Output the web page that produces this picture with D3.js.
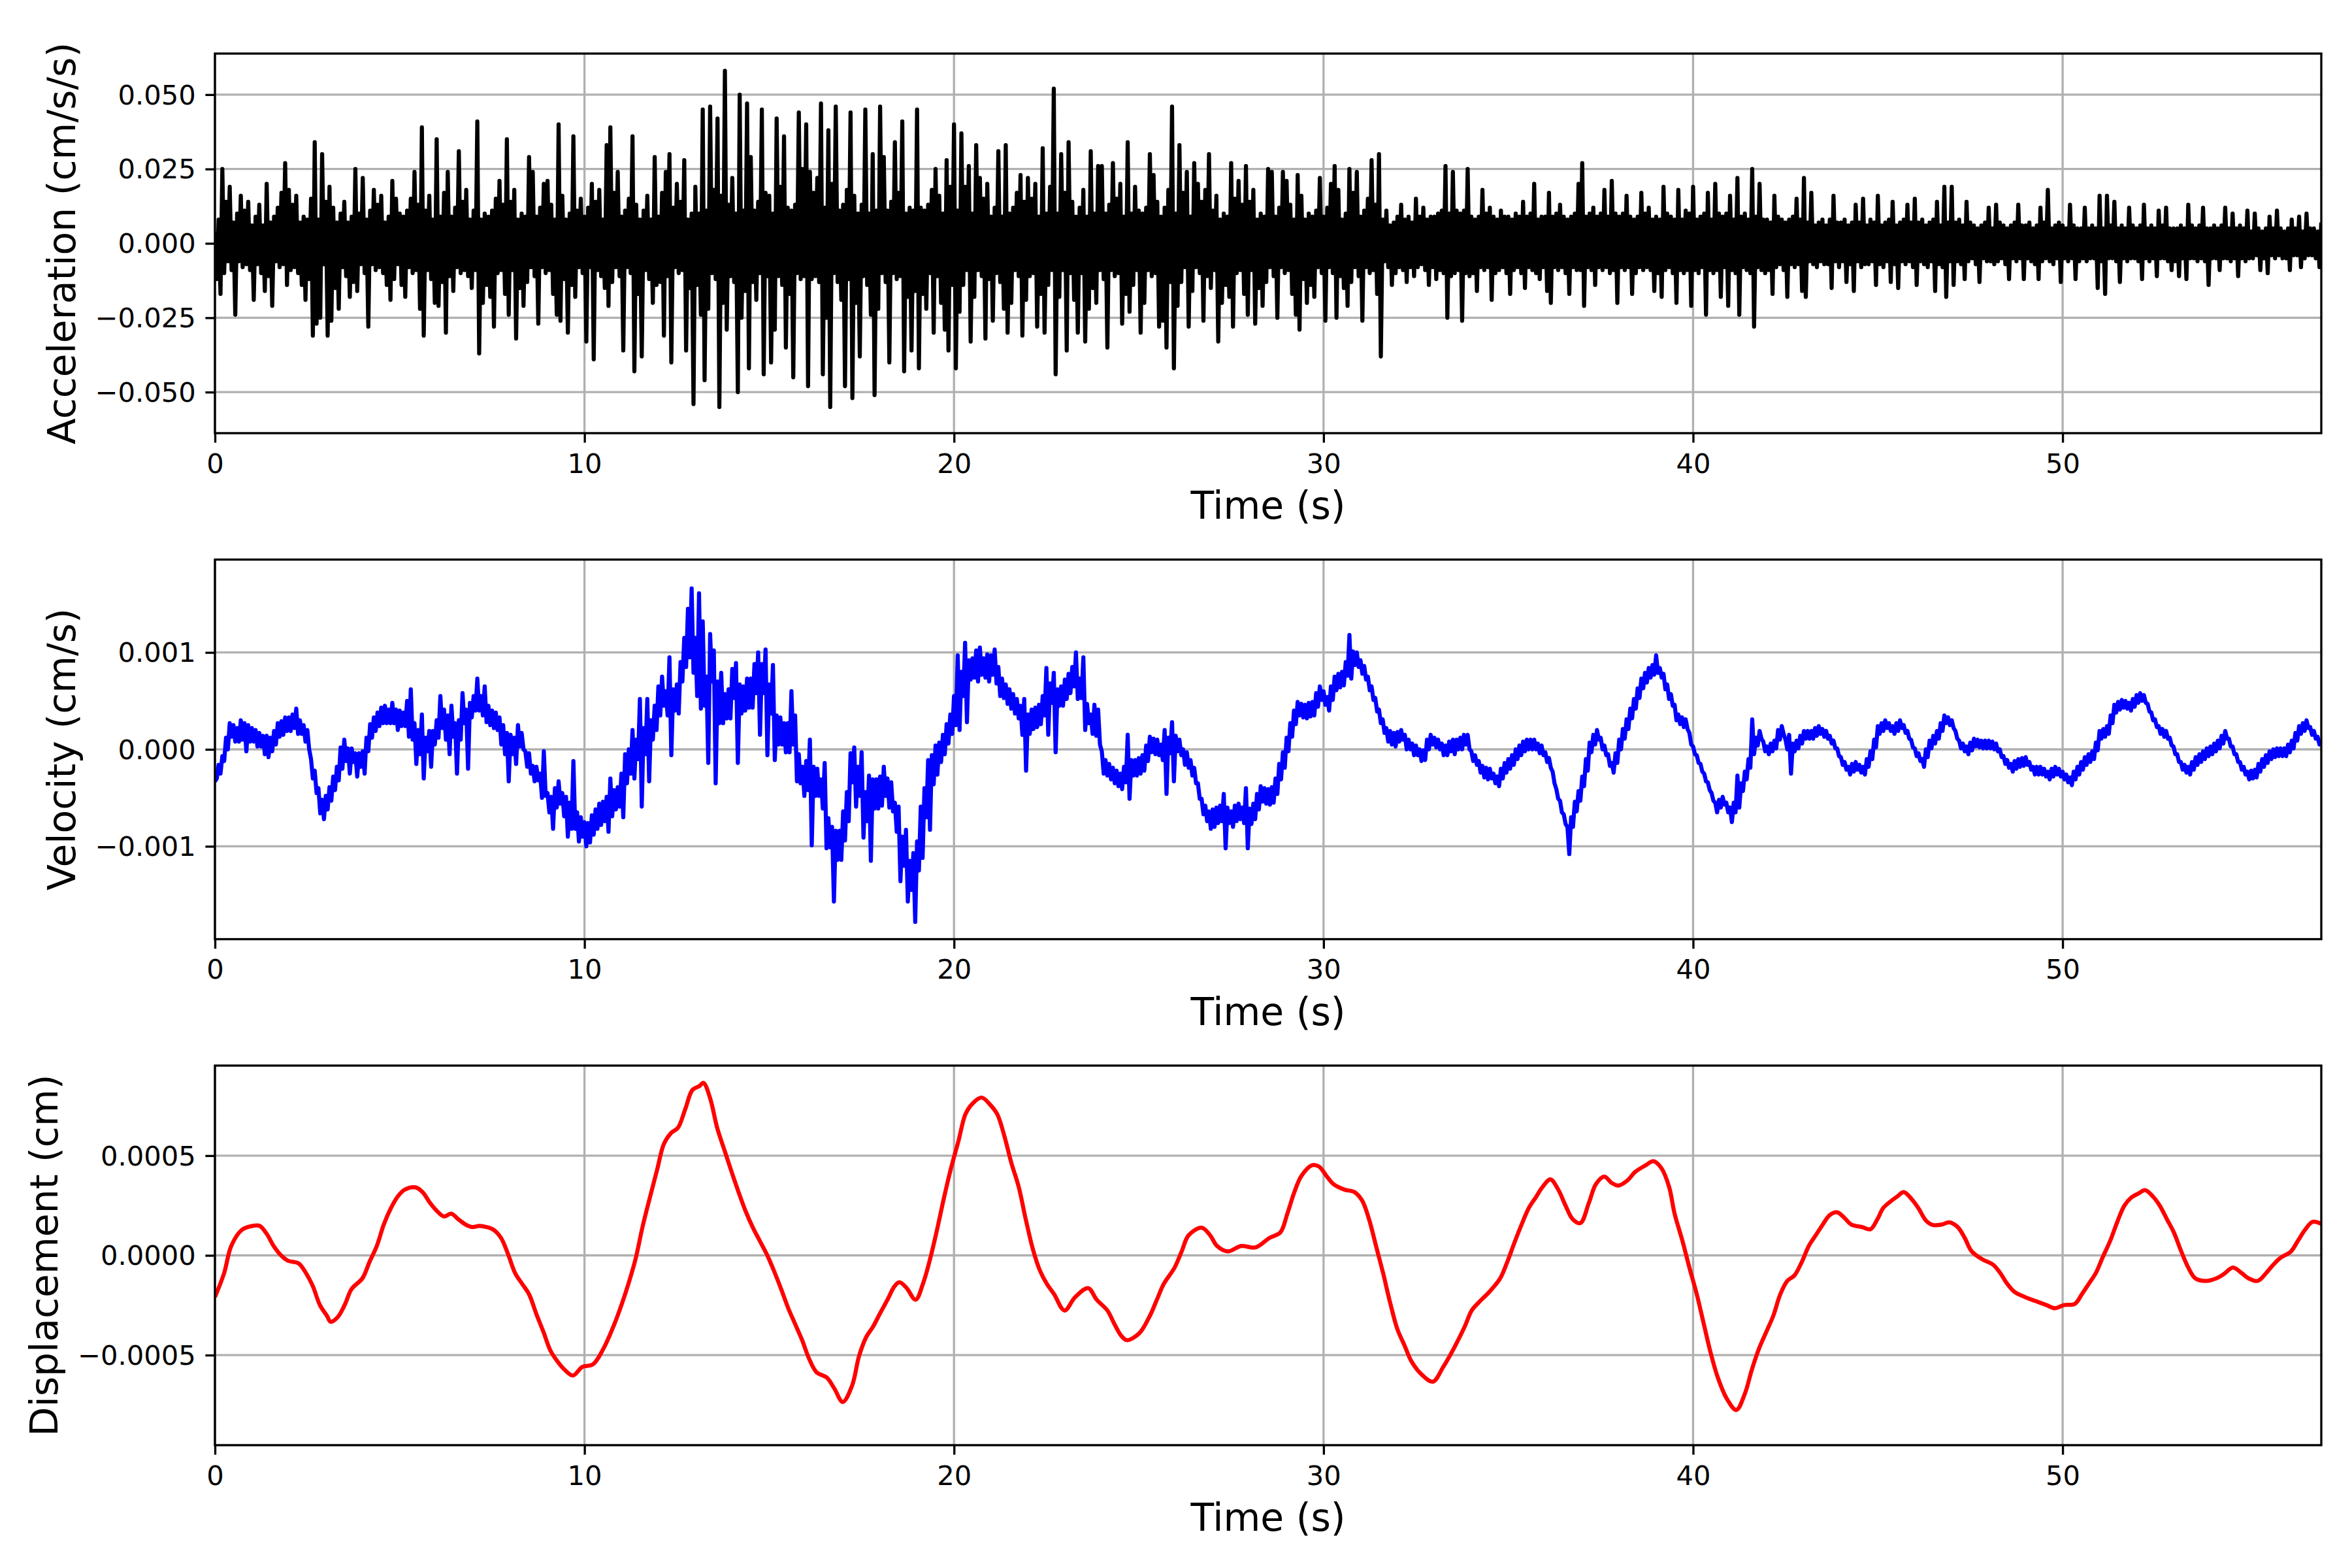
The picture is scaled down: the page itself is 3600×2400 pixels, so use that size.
<!DOCTYPE html>
<html>
<head>
<meta charset="utf-8">
<script src="https://cdn.jsdelivr.net/npm/d3@7"></script>
<style>
body { margin: 0; background: #fff; }
</style>
</head>
<body>
<div id="chart"></div>
<script>
// sampling step of the acceleration and velocity records (s)
const dt = 0.05;

// acceleration (cm/s/s), one value every dt (one row = 1 s)
const acceleration = [
0.004,-0.012,0.008,-0.017,0.025,-0.010,0.014,-0.006,0.019,-0.009,0.007,-0.024,0.010,-0.006,0.016,-0.008,0.011,-0.007,0.014,-0.009,
0.006,-0.019,0.009,-0.007,0.013,-0.010,0.006,-0.016,0.020,-0.011,0.007,-0.021,0.009,-0.006,0.012,-0.008,0.017,-0.007,0.027,-0.014,
0.018,-0.009,0.013,-0.008,0.016,-0.010,0.007,-0.014,0.009,-0.019,0.008,-0.012,0.015,-0.031,0.034,-0.027,0.008,-0.025,0.030,-0.007,
0.014,-0.031,0.019,-0.026,0.012,-0.015,0.007,-0.022,0.010,-0.008,0.014,-0.011,0.007,-0.018,0.009,-0.013,0.025,-0.016,0.010,-0.007,
0.022,-0.010,0.008,-0.028,0.011,-0.007,0.018,-0.009,0.013,-0.008,0.016,-0.010,0.007,-0.014,0.009,-0.019,0.021,-0.012,0.015,-0.007,
0.010,-0.014,0.009,-0.018,0.011,-0.008,0.015,-0.010,0.024,-0.009,0.013,-0.022,0.039,-0.031,0.011,-0.009,0.016,-0.012,0.008,-0.020,
0.035,-0.021,0.009,-0.013,0.017,-0.030,0.024,-0.011,0.009,-0.016,0.012,-0.008,0.031,-0.010,0.014,-0.009,0.018,-0.011,0.008,-0.015,
0.011,-0.009,0.041,-0.037,0.008,-0.020,0.010,-0.014,0.009,-0.018,0.011,-0.028,0.015,-0.010,0.021,-0.009,0.013,-0.017,0.035,-0.024,
0.014,-0.009,0.018,-0.032,0.008,-0.015,0.010,-0.021,0.009,-0.013,0.029,-0.008,0.024,-0.011,0.009,-0.027,0.012,-0.008,0.020,-0.010,
0.021,-0.009,0.013,-0.017,0.008,-0.024,0.040,-0.026,0.016,-0.012,0.008,-0.030,0.010,-0.014,0.036,-0.018,0.011,-0.008,0.015,-0.010,
0.009,-0.033,0.012,-0.008,0.020,-0.039,0.014,-0.009,0.018,-0.011,0.008,-0.015,0.033,-0.021,0.039,-0.013,0.017,-0.008,0.024,-0.011,
0.009,-0.036,0.011,-0.008,0.015,-0.010,0.036,-0.043,0.013,-0.017,0.008,-0.038,0.011,-0.009,0.016,-0.012,0.008,-0.020,0.029,-0.014,
0.009,-0.013,0.017,-0.031,0.024,-0.011,0.030,-0.040,0.012,-0.008,0.020,-0.010,0.014,-0.009,0.028,-0.036,0.008,-0.015,0.010,-0.054,
0.019,-0.014,0.010,-0.024,0.045,-0.046,0.011,-0.022,0.046,-0.010,0.018,-0.012,0.042,-0.055,0.016,-0.020,0.058,-0.029,0.013,-0.011,
0.022,-0.013,0.010,-0.050,0.050,-0.025,0.011,-0.016,0.047,-0.042,0.029,-0.013,0.011,-0.019,0.014,-0.010,0.045,-0.044,0.017,-0.011,
0.016,-0.040,0.010,-0.029,0.042,-0.011,0.019,-0.014,0.036,-0.035,0.012,-0.017,0.011,-0.045,0.013,-0.010,0.044,-0.012,0.025,-0.011,
0.040,-0.048,0.024,-0.012,0.017,-0.011,0.022,-0.013,0.047,-0.044,0.012,-0.025,0.038,-0.055,0.020,-0.010,0.046,-0.013,0.011,-0.019,
0.013,-0.048,0.018,-0.012,0.044,-0.052,0.016,-0.020,0.010,-0.038,0.013,-0.011,0.045,-0.014,0.010,-0.024,0.030,-0.051,0.011,-0.022,
0.046,-0.010,0.029,-0.013,0.011,-0.040,0.014,-0.010,0.034,-0.012,0.017,-0.011,0.041,-0.043,0.010,-0.018,0.012,-0.036,0.011,-0.016,
0.045,-0.042,0.012,-0.017,0.011,-0.022,0.013,-0.010,0.018,-0.030,0.025,-0.011,0.016,-0.020,0.010,-0.029,0.028,-0.036,0.019,-0.014,
0.040,-0.042,0.011,-0.023,0.037,-0.014,0.019,-0.009,0.026,-0.033,0.010,-0.018,0.033,-0.009,0.022,-0.011,0.015,-0.032,0.020,-0.012,
0.009,-0.026,0.012,-0.010,0.031,-0.013,0.009,-0.022,0.033,-0.030,0.010,-0.020,0.012,-0.009,0.017,-0.011,0.023,-0.031,0.014,-0.019,
0.022,-0.011,0.015,-0.010,0.020,-0.028,0.009,-0.017,0.032,-0.030,0.010,-0.014,0.019,-0.009,0.052,-0.044,0.010,-0.018,0.030,-0.009,
0.017,-0.036,0.034,-0.010,0.014,-0.019,0.009,-0.030,0.012,-0.010,0.018,-0.033,0.009,-0.022,0.031,-0.015,0.010,-0.020,0.026,-0.009,
0.026,-0.012,0.010,-0.035,0.013,-0.009,0.027,-0.011,0.015,-0.010,0.020,-0.027,0.009,-0.017,0.034,-0.023,0.010,-0.014,0.019,-0.009,
0.011,-0.030,0.010,-0.020,0.012,-0.009,0.030,-0.011,0.023,-0.010,0.014,-0.028,0.009,-0.026,0.012,-0.035,0.018,-0.013,0.046,-0.042,
0.010,-0.021,0.033,-0.013,0.017,-0.008,0.024,-0.028,0.009,-0.016,0.027,-0.008,0.020,-0.010,0.014,-0.026,0.018,-0.011,0.030,-0.015,
0.011,-0.009,0.016,-0.033,0.008,-0.020,0.010,-0.014,0.009,-0.018,0.027,-0.028,0.015,-0.010,0.021,-0.009,0.013,-0.017,0.026,-0.024,
0.014,-0.009,0.018,-0.027,0.008,-0.015,0.010,-0.021,0.009,-0.013,0.025,-0.008,0.024,-0.011,0.009,-0.025,0.012,-0.008,0.024,-0.010,
0.021,-0.009,0.013,-0.017,0.008,-0.024,0.023,-0.029,0.016,-0.012,0.008,-0.020,0.010,-0.014,0.009,-0.018,0.011,-0.008,0.022,-0.010,
0.009,-0.026,0.012,-0.008,0.020,-0.010,0.026,-0.025,0.018,-0.011,0.008,-0.015,0.010,-0.021,0.025,-0.013,0.017,-0.008,0.024,-0.011,
0.009,-0.026,0.011,-0.008,0.015,-0.010,0.028,-0.009,0.013,-0.017,0.030,-0.038,0.008,-0.006,0.011,-0.008,0.006,-0.014,0.007,-0.010,
0.009,-0.008,0.013,-0.009,0.008,-0.013,0.009,-0.008,0.007,-0.011,0.015,-0.008,0.009,-0.007,0.012,-0.009,0.008,-0.014,0.009,-0.008,
0.009,-0.012,0.010,-0.009,0.011,-0.010,0.026,-0.025,0.010,-0.011,0.024,-0.010,0.011,-0.009,0.010,-0.026,0.011,-0.010,0.025,-0.011,
0.009,-0.010,0.008,-0.016,0.009,-0.008,0.018,-0.009,0.010,-0.008,0.012,-0.019,0.009,-0.010,0.008,-0.009,0.011,-0.008,0.009,-0.010,
0.009,-0.017,0.008,-0.009,0.010,-0.008,0.009,-0.010,0.014,-0.015,0.009,-0.008,0.010,-0.009,0.020,-0.010,0.008,-0.012,0.009,-0.008,
0.009,-0.016,0.017,-0.020,0.009,-0.008,0.010,-0.009,0.013,-0.008,0.009,-0.010,0.008,-0.017,0.009,-0.008,0.010,-0.009,0.020,-0.009,
0.027,-0.021,0.009,-0.008,0.010,-0.009,0.012,-0.014,0.009,-0.008,0.010,-0.009,0.018,-0.008,0.009,-0.010,0.021,-0.009,0.010,-0.020,
0.009,-0.008,0.010,-0.009,0.016,-0.008,0.009,-0.017,0.008,-0.010,0.009,-0.008,0.017,-0.009,0.010,-0.008,0.012,-0.009,0.008,-0.016,
0.009,-0.010,0.008,-0.018,0.019,-0.009,0.010,-0.008,0.009,-0.010,0.008,-0.020,0.018,-0.009,0.008,-0.010,0.011,-0.009,0.010,-0.021,
0.019,-0.009,0.008,-0.010,0.009,-0.008,0.010,-0.024,0.017,-0.009,0.008,-0.010,0.020,-0.009,0.010,-0.018,0.009,-0.008,0.010,-0.021,
0.016,-0.009,0.008,-0.010,0.022,-0.024,0.009,-0.008,0.010,-0.009,0.008,-0.010,0.025,-0.028,0.009,-0.008,0.020,-0.009,0.008,-0.010,
0.008,-0.009,0.007,-0.017,0.016,-0.008,0.009,-0.007,0.008,-0.009,0.007,-0.018,0.008,-0.007,0.009,-0.008,0.015,-0.007,0.008,-0.016,
0.022,-0.018,0.007,-0.006,0.017,-0.007,0.006,-0.008,0.007,-0.006,0.008,-0.007,0.006,-0.007,0.008,-0.015,0.016,-0.006,0.007,-0.008,
0.007,-0.006,0.008,-0.013,0.006,-0.007,0.007,-0.016,0.013,-0.006,0.007,-0.008,0.015,-0.007,0.006,-0.007,0.008,-0.006,0.007,-0.014,
0.016,-0.007,0.006,-0.008,0.007,-0.006,0.008,-0.013,0.014,-0.007,0.006,-0.015,0.007,-0.006,0.008,-0.007,0.013,-0.006,0.007,-0.008,
0.015,-0.014,0.007,-0.006,0.008,-0.007,0.006,-0.008,0.007,-0.006,0.008,-0.016,0.014,-0.007,0.006,-0.008,0.019,-0.018,0.007,-0.006,
0.019,-0.014,0.007,-0.006,0.008,-0.007,0.006,-0.012,0.014,-0.006,0.007,-0.005,0.006,-0.007,0.005,-0.013,0.006,-0.005,0.007,-0.006,
0.012,-0.006,0.005,-0.007,0.013,-0.006,0.007,-0.005,0.006,-0.007,0.005,-0.012,0.006,-0.005,0.007,-0.006,0.013,-0.005,0.006,-0.012,
0.006,-0.005,0.007,-0.006,0.005,-0.007,0.006,-0.012,0.012,-0.006,0.007,-0.005,0.018,-0.006,0.005,-0.007,0.006,-0.005,0.007,-0.013,
0.006,-0.005,0.005,-0.006,0.013,-0.005,0.006,-0.012,0.005,-0.006,0.005,-0.005,0.012,-0.006,0.005,-0.005,0.006,-0.005,0.005,-0.015,
0.016,-0.006,0.005,-0.017,0.016,-0.005,0.006,-0.005,0.014,-0.006,0.005,-0.013,0.006,-0.005,0.005,-0.006,0.012,-0.005,0.006,-0.005,
0.005,-0.006,0.006,-0.012,0.013,-0.005,0.005,-0.006,0.006,-0.005,0.005,-0.011,0.011,-0.005,0.006,-0.005,0.012,-0.006,0.005,-0.009,
0.005,-0.006,0.005,-0.011,0.006,-0.005,0.005,-0.012,0.013,-0.005,0.006,-0.005,0.005,-0.006,0.006,-0.005,0.012,-0.006,0.005,-0.014,
0.005,-0.005,0.006,-0.005,0.005,-0.009,0.006,-0.005,0.012,-0.005,0.005,-0.006,0.010,-0.005,0.005,-0.011,0.006,-0.005,0.005,-0.006,
0.011,-0.005,0.004,-0.005,0.010,-0.004,0.005,-0.009,0.004,-0.005,0.005,-0.010,0.009,-0.004,0.005,-0.005,0.011,-0.004,0.005,-0.005,
0.004,-0.005,0.005,-0.009,0.008,-0.004,0.005,-0.004,0.009,-0.008,0.004,-0.005,0.010,-0.004,0.005,-0.004,0.005,-0.005,0.004,-0.008,
0.007];

// velocity (cm/s), one value every dt (one row = 1 s)
const velocity = [
-0.33e-3,-0.30e-3,-0.16e-3,-0.25e-3,-0.07e-3,-0.12e-3,0.12e-3,0.00e-3,0.27e-3,0.13e-3,0.25e-3,0.08e-3,0.22e-3,0.08e-3,0.30e-3,0.10e-3,0.27e-3,-0.02e-3,0.25e-3,0.08e-3,
0.22e-3,0.08e-3,0.20e-3,0.03e-3,0.17e-3,0.03e-3,0.14e-3,-0.05e-3,0.14e-3,-0.08e-3,0.12e-3,-0.02e-3,0.19e-3,0.05e-3,0.27e-3,0.13e-3,0.29e-3,0.15e-3,0.33e-3,0.19e-3,
0.33e-3,0.19e-3,0.36e-3,0.22e-3,0.42e-3,0.16e-3,0.30e-3,0.16e-3,0.25e-3,0.08e-3,0.20e-3,0.00e-3,-0.10e-3,-0.30e-3,-0.22e-3,-0.45e-3,-0.40e-3,-0.66e-3,-0.52e-3,-0.72e-3,
-0.48e-3,-0.62e-3,-0.39e-3,-0.53e-3,-0.28e-3,-0.42e-3,-0.18e-3,-0.32e-3,0.02e-3,-0.20e-3,0.10e-3,-0.12e-3,0.01e-3,-0.25e-3,0.01e-3,-0.13e-3,-0.04e-3,-0.28e-3,-0.04e-3,-0.18e-3,
-0.02e-3,-0.25e-3,0.12e-3,-0.02e-3,0.26e-3,0.12e-3,0.33e-3,0.19e-3,0.38e-3,0.24e-3,0.43e-3,0.27e-3,0.45e-3,0.27e-3,0.41e-3,0.27e-3,0.48e-3,0.27e-3,0.41e-3,0.20e-3,
0.40e-3,0.24e-3,0.38e-3,0.24e-3,0.50e-3,0.13e-3,0.62e-3,0.10e-3,0.27e-3,-0.15e-3,0.20e-3,-0.05e-3,0.36e-3,-0.30e-3,0.12e-3,-0.02e-3,0.19e-3,-0.18e-3,0.19e-3,0.05e-3,
0.30e-3,0.12e-3,0.55e-3,0.22e-3,0.41e-3,0.10e-3,0.35e-3,-0.05e-3,0.45e-3,0.13e-3,0.27e-3,-0.25e-3,0.30e-3,0.10e-3,0.58e-3,0.27e-3,0.41e-3,-0.20e-3,0.48e-3,0.33e-3,
0.55e-3,0.40e-3,0.73e-3,0.40e-3,0.55e-3,0.35e-3,0.65e-3,0.28e-3,0.45e-3,0.25e-3,0.40e-3,0.22e-3,0.38e-3,0.20e-3,0.33e-3,0.05e-3,0.25e-3,-0.05e-3,0.17e-3,-0.33e-3,
0.15e-3,-0.05e-3,0.12e-3,-0.15e-3,0.25e-3,0.03e-3,0.17e-3,0.00e-3,-0.02e-3,-0.18e-3,-0.04e-3,-0.25e-3,-0.17e-3,-0.33e-3,-0.18e-3,-0.32e-3,-0.25e-3,-0.50e-3,-0.02e-3,-0.48e-3,
-0.45e-3,-0.65e-3,-0.49e-3,-0.82e-3,-0.40e-3,-0.60e-3,-0.33e-3,-0.56e-3,-0.45e-3,-0.69e-3,-0.49e-3,-0.90e-3,-0.55e-3,-0.82e-3,-0.12e-3,-0.82e-3,-0.65e-3,-0.95e-3,-0.70e-3,-0.90e-3,
-0.75e-3,-1.00e-3,-0.76e-3,-0.96e-3,-0.68e-3,-0.88e-3,-0.62e-3,-0.82e-3,-0.56e-3,-0.78e-3,-0.54e-3,-0.74e-3,-0.49e-3,-0.85e-3,-0.30e-3,-0.69e-3,-0.42e-3,-0.62e-3,-0.39e-3,-0.59e-3,
-0.25e-3,-0.70e-3,-0.05e-3,-0.35e-3,0.00e-3,-0.25e-3,0.20e-3,-0.30e-3,0.10e-3,-0.10e-3,0.52e-3,-0.59e-3,0.22e-3,-0.05e-3,0.52e-3,-0.33e-3,0.30e-3,0.10e-3,0.45e-3,0.20e-3,
0.65e-3,0.35e-3,0.75e-3,0.45e-3,0.60e-3,0.35e-3,0.95e-3,-0.06e-3,0.62e-3,0.40e-3,0.67e-3,0.37e-3,0.90e-3,0.70e-3,1.15e-3,0.85e-3,1.45e-3,0.95e-3,1.66e-3,0.79e-3,
1.15e-3,0.55e-3,1.61e-3,0.42e-3,1.32e-3,0.45e-3,0.75e-3,-0.14e-3,1.19e-3,0.70e-3,1.02e-3,-0.35e-3,0.70e-3,0.27e-3,0.79e-3,0.27e-3,0.57e-3,0.32e-3,0.62e-3,0.32e-3,
0.83e-3,0.53e-3,0.89e-3,-0.14e-3,0.67e-3,0.37e-3,0.65e-3,0.40e-3,0.73e-3,0.43e-3,0.73e-3,0.43e-3,0.88e-3,0.58e-3,1.00e-3,0.15e-3,0.88e-3,0.58e-3,1.03e-3,-0.06e-3,
0.67e-3,0.37e-3,0.87e-3,-0.11e-3,0.35e-3,0.05e-3,0.33e-3,0.05e-3,0.27e-3,-0.03e-3,0.27e-3,-0.03e-3,0.60e-3,0.05e-3,0.35e-3,-0.33e-3,-0.05e-3,-0.35e-3,-0.18e-3,-0.48e-3,
-0.12e-3,-0.42e-3,0.10e-3,-0.99e-3,-0.18e-3,-0.48e-3,-0.20e-3,-0.48e-3,-0.31e-3,-0.61e-3,-0.14e-3,-1.02e-3,-0.71e-3,-1.01e-3,-0.80e-3,-1.57e-3,-0.84e-3,-1.14e-3,-0.84e-3,-1.14e-3,
-0.64e-3,-0.94e-3,-0.44e-3,-0.74e-3,-0.04e-3,-0.34e-3,0.02e-3,-0.59e-3,-0.18e-3,-0.48e-3,-0.03e-3,-0.91e-3,-0.44e-3,-0.74e-3,-0.27e-3,-1.15e-3,-0.31e-3,-0.61e-3,-0.31e-3,-0.61e-3,
-0.28e-3,-0.58e-3,-0.18e-3,-0.48e-3,-0.30e-3,-0.60e-3,-0.34e-3,-0.64e-3,-0.55e-3,-0.85e-3,-0.59e-3,-1.36e-3,-0.90e-3,-1.20e-3,-0.83e-3,-1.57e-3,-1.15e-3,-1.45e-3,-1.07e-3,-1.78e-3,
-0.95e-3,-1.25e-3,-0.59e-3,-1.12e-3,-0.40e-3,-0.70e-3,-0.11e-3,-0.83e-3,-0.06e-3,-0.36e-3,0.04e-3,-0.26e-3,0.07e-3,-0.13e-3,0.15e-3,-0.05e-3,0.26e-3,0.06e-3,0.36e-3,0.16e-3,
0.55e-3,0.25e-3,0.97e-3,0.20e-3,0.80e-3,0.55e-3,1.10e-3,0.28e-3,0.92e-3,0.72e-3,0.94e-3,0.74e-3,1.02e-3,0.70e-3,1.05e-3,0.77e-3,0.94e-3,0.74e-3,0.98e-3,0.70e-3,
0.97e-3,0.77e-3,1.03e-3,0.68e-3,0.85e-3,0.55e-3,0.73e-3,0.53e-3,0.67e-3,0.47e-3,0.62e-3,0.42e-3,0.57e-3,0.37e-3,0.52e-3,0.32e-3,0.45e-3,0.15e-3,0.52e-3,-0.22e-3,
0.36e-3,0.16e-3,0.41e-3,0.21e-3,0.43e-3,0.23e-3,0.46e-3,0.26e-3,0.55e-3,0.35e-3,0.84e-3,0.15e-3,0.68e-3,0.48e-3,0.79e-3,-0.03e-3,0.62e-3,0.45e-3,0.65e-3,0.45e-3,
0.72e-3,0.52e-3,0.78e-3,0.58e-3,0.85e-3,0.65e-3,1.00e-3,0.52e-3,0.73e-3,0.53e-3,0.95e-3,0.20e-3,0.47e-3,0.27e-3,0.36e-3,0.16e-3,0.46e-3,0.14e-3,0.41e-3,0.05e-3,
-0.02e-3,-0.25e-3,-0.11e-3,-0.27e-3,-0.15e-3,-0.31e-3,-0.19e-3,-0.35e-3,-0.22e-3,-0.38e-3,-0.25e-3,-0.41e-3,-0.18e-3,-0.34e-3,0.15e-3,-0.51e-3,-0.11e-3,-0.27e-3,-0.11e-3,-0.27e-3,
-0.09e-3,-0.25e-3,-0.06e-3,-0.22e-3,0.04e-3,-0.12e-3,0.13e-3,-0.03e-3,0.11e-3,-0.05e-3,0.10e-3,-0.06e-3,0.05e-3,-0.11e-3,0.20e-3,-0.46e-3,0.12e-3,-0.04e-3,0.28e-3,-0.33e-3,
0.14e-3,-0.02e-3,0.10e-3,-0.06e-3,0.00e-3,-0.16e-3,-0.03e-3,-0.19e-3,-0.11e-3,-0.27e-3,-0.19e-3,-0.35e-3,-0.35e-3,-0.51e-3,-0.51e-3,-0.67e-3,-0.58e-3,-0.74e-3,-0.64e-3,-0.82e-3,
-0.62e-3,-0.80e-3,-0.60e-3,-0.76e-3,-0.58e-3,-0.74e-3,-0.46e-3,-1.02e-3,-0.60e-3,-0.76e-3,-0.64e-3,-0.80e-3,-0.58e-3,-0.74e-3,-0.56e-3,-0.72e-3,-0.60e-3,-0.76e-3,-0.40e-3,-1.02e-3,
-0.61e-3,-0.77e-3,-0.56e-3,-0.72e-3,-0.46e-3,-0.62e-3,-0.38e-3,-0.54e-3,-0.40e-3,-0.56e-3,-0.41e-3,-0.57e-3,-0.39e-3,-0.55e-3,-0.30e-3,-0.46e-3,-0.15e-3,-0.31e-3,-0.03e-3,-0.19e-3,
0.12e-3,-0.02e-3,0.27e-3,0.13e-3,0.40e-3,0.26e-3,0.49e-3,0.35e-3,0.47e-3,0.33e-3,0.46e-3,0.32e-3,0.48e-3,0.34e-3,0.49e-3,0.35e-3,0.58e-3,0.44e-3,0.65e-3,0.51e-3,
0.60e-3,0.46e-3,0.54e-3,0.40e-3,0.65e-3,0.51e-3,0.75e-3,0.61e-3,0.78e-3,0.64e-3,0.80e-3,0.66e-3,0.90e-3,0.76e-3,1.18e-3,0.73e-3,1.01e-3,0.87e-3,1.00e-3,0.85e-3,
0.92e-3,0.78e-3,0.86e-3,0.72e-3,0.75e-3,0.61e-3,0.65e-3,0.51e-3,0.53e-3,0.39e-3,0.41e-3,0.27e-3,0.31e-3,0.17e-3,0.22e-3,0.08e-3,0.19e-3,0.05e-3,0.17e-3,0.03e-3,
0.18e-3,0.08e-3,0.20e-3,0.10e-3,0.15e-3,0.00e-3,0.10e-3,0.00e-3,0.06e-3,-0.06e-3,0.04e-3,-0.06e-3,0.00e-3,-0.12e-3,-0.01e-3,-0.11e-3,0.10e-3,0.00e-3,0.15e-3,0.05e-3,
0.12e-3,0.02e-3,0.10e-3,0.00e-3,0.06e-3,-0.06e-3,0.04e-3,-0.06e-3,0.08e-3,-0.02e-3,0.10e-3,-0.05e-3,0.10e-3,0.00e-3,0.12e-3,0.00e-3,0.15e-3,0.05e-3,0.15e-3,0.00e-3,
-0.02e-3,-0.12e-3,-0.06e-3,-0.16e-3,-0.12e-3,-0.24e-3,-0.17e-3,-0.29e-3,-0.19e-3,-0.31e-3,-0.20e-3,-0.30e-3,-0.25e-3,-0.35e-3,-0.28e-3,-0.38e-3,-0.20e-3,-0.30e-3,-0.14e-3,-0.24e-3,
-0.10e-3,-0.20e-3,-0.06e-3,-0.16e-3,0.00e-3,-0.10e-3,0.04e-3,-0.06e-3,0.08e-3,-0.02e-3,0.10e-3,0.00e-3,0.10e-3,0.00e-3,0.10e-3,0.00e-3,0.06e-3,-0.04e-3,0.04e-3,-0.06e-3,
-0.03e-3,-0.13e-3,-0.09e-3,-0.19e-3,-0.23e-3,-0.35e-3,-0.41e-3,-0.51e-3,-0.53e-3,-0.65e-3,-0.67e-3,-0.77e-3,-0.80e-3,-1.08e-3,-0.70e-3,-0.80e-3,-0.54e-3,-0.64e-3,-0.43e-3,-0.53e-3,
-0.28e-3,-0.38e-3,-0.10e-3,-0.22e-3,0.07e-3,-0.03e-3,0.15e-3,0.05e-3,0.20e-3,0.10e-3,0.12e-3,0.00e-3,0.04e-3,-0.06e-3,-0.05e-3,-0.17e-3,-0.14e-3,-0.24e-3,-0.04e-3,-0.14e-3,
0.10e-3,0.00e-3,0.21e-3,0.11e-3,0.31e-3,0.21e-3,0.42e-3,0.32e-3,0.52e-3,0.42e-3,0.63e-3,0.53e-3,0.73e-3,0.63e-3,0.79e-3,0.69e-3,0.84e-3,0.74e-3,0.87e-3,0.77e-3,
0.97e-3,0.79e-3,0.84e-3,0.74e-3,0.78e-3,0.62e-3,0.67e-3,0.52e-3,0.57e-3,0.45e-3,0.46e-3,0.30e-3,0.36e-3,0.26e-3,0.33e-3,0.23e-3,0.31e-3,0.21e-3,0.17e-3,0.05e-3,
0.03e-3,-0.05e-3,-0.06e-3,-0.14e-3,-0.15e-3,-0.23e-3,-0.25e-3,-0.33e-3,-0.34e-3,-0.42e-3,-0.45e-3,-0.53e-3,-0.55e-3,-0.65e-3,-0.52e-3,-0.60e-3,-0.49e-3,-0.57e-3,-0.55e-3,-0.65e-3,
-0.60e-3,-0.75e-3,-0.55e-3,-0.65e-3,-0.27e-3,-0.60e-3,-0.35e-3,-0.43e-3,-0.23e-3,-0.31e-3,-0.10e-3,-0.19e-3,0.31e-3,-0.05e-3,0.12e-3,0.04e-3,0.19e-3,0.11e-3,0.08e-3,-0.02e-3,
0.03e-3,-0.05e-3,0.06e-3,-0.02e-3,0.09e-3,0.01e-3,0.20e-3,0.10e-3,0.24e-3,0.16e-3,0.10e-3,0.00e-3,0.15e-3,-0.25e-3,0.06e-3,-0.02e-3,0.09e-3,0.01e-3,0.14e-3,0.06e-3,
0.19e-3,0.11e-3,0.19e-3,0.11e-3,0.19e-3,0.11e-3,0.22e-3,0.14e-3,0.24e-3,0.16e-3,0.21e-3,0.13e-3,0.19e-3,0.11e-3,0.14e-3,0.06e-3,0.09e-3,0.01e-3,0.01e-3,-0.07e-3,
-0.08e-3,-0.16e-3,-0.13e-3,-0.21e-3,-0.18e-3,-0.26e-3,-0.15e-3,-0.23e-3,-0.13e-3,-0.21e-3,-0.16e-3,-0.24e-3,-0.18e-3,-0.26e-3,-0.10e-3,-0.18e-3,-0.02e-3,-0.10e-3,0.10e-3,0.02e-3,
0.24e-3,0.16e-3,0.27e-3,0.19e-3,0.30e-3,0.22e-3,0.27e-3,0.19e-3,0.24e-3,0.16e-3,0.27e-3,0.19e-3,0.30e-3,0.22e-3,0.25e-3,0.17e-3,0.19e-3,0.11e-3,0.10e-3,0.02e-3,
0.01e-3,-0.07e-3,-0.04e-3,-0.12e-3,-0.10e-3,-0.18e-3,0.00e-3,-0.08e-3,0.09e-3,0.01e-3,0.14e-3,0.06e-3,0.19e-3,0.11e-3,0.27e-3,0.19e-3,0.35e-3,0.27e-3,0.33e-3,0.25e-3,
0.30e-3,0.22e-3,0.19e-3,0.11e-3,0.09e-3,0.01e-3,0.06e-3,-0.02e-3,0.03e-3,-0.05e-3,0.07e-3,-0.01e-3,0.11e-3,0.03e-3,0.10e-3,0.02e-3,0.09e-3,0.01e-3,0.09e-3,0.01e-3,
0.09e-3,0.01e-3,0.08e-3,0.00e-3,0.06e-3,-0.02e-3,0.00e-3,-0.08e-3,-0.07e-3,-0.15e-3,-0.11e-3,-0.19e-3,-0.15e-3,-0.23e-3,-0.12e-3,-0.20e-3,-0.10e-3,-0.18e-3,-0.09e-3,-0.17e-3,
-0.08e-3,-0.16e-3,-0.13e-3,-0.21e-3,-0.18e-3,-0.26e-3,-0.18e-3,-0.26e-3,-0.18e-3,-0.26e-3,-0.20e-3,-0.28e-3,-0.23e-3,-0.31e-3,-0.20e-3,-0.28e-3,-0.18e-3,-0.26e-3,-0.20e-3,-0.28e-3,
-0.23e-3,-0.31e-3,-0.26e-3,-0.34e-3,-0.29e-3,-0.37e-3,-0.23e-3,-0.31e-3,-0.18e-3,-0.26e-3,-0.13e-3,-0.21e-3,-0.08e-3,-0.16e-3,-0.05e-3,-0.13e-3,-0.02e-3,-0.10e-3,0.07e-3,-0.01e-3,
0.19e-3,0.11e-3,0.21e-3,0.13e-3,0.24e-3,0.16e-3,0.35e-3,0.27e-3,0.46e-3,0.38e-3,0.49e-3,0.41e-3,0.51e-3,0.43e-3,0.50e-3,0.42e-3,0.48e-3,0.40e-3,0.52e-3,0.44e-3,
0.56e-3,0.48e-3,0.58e-3,0.50e-3,0.56e-3,0.48e-3,0.47e-3,0.39e-3,0.38e-3,0.30e-3,0.31e-3,0.23e-3,0.24e-3,0.16e-3,0.21e-3,0.13e-3,0.19e-3,0.11e-3,0.12e-3,0.04e-3,
0.03e-3,-0.05e-3,-0.05e-3,-0.13e-3,-0.13e-3,-0.21e-3,-0.16e-3,-0.24e-3,-0.18e-3,-0.26e-3,-0.13e-3,-0.21e-3,-0.08e-3,-0.16e-3,-0.05e-3,-0.13e-3,-0.02e-3,-0.10e-3,0.01e-3,-0.07e-3,
0.03e-3,-0.05e-3,0.06e-3,-0.02e-3,0.09e-3,0.01e-3,0.14e-3,0.06e-3,0.19e-3,0.11e-3,0.11e-3,0.03e-3,0.03e-3,-0.05e-3,-0.05e-3,-0.13e-3,-0.13e-3,-0.21e-3,-0.18e-3,-0.26e-3,
-0.23e-3,-0.31e-3,-0.22e-3,-0.30e-3,-0.21e-3,-0.29e-3,-0.15e-3,-0.23e-3,-0.10e-3,-0.18e-3,-0.06e-3,-0.14e-3,-0.02e-3,-0.10e-3,0.00e-3,-0.08e-3,0.01e-3,-0.07e-3,0.01e-3,-0.07e-3,
0.01e-3,-0.07e-3,0.05e-3,-0.03e-3,0.09e-3,0.01e-3,0.17e-3,0.09e-3,0.24e-3,0.16e-3,0.27e-3,0.19e-3,0.30e-3,0.22e-3,0.23e-3,0.15e-3,0.19e-3,0.11e-3,0.13e-3,0.05e-3,
0.09e-3];

const dispTime = [
0,0.25,0.44,0.73,1.02,1.21,1.40,1.59,1.79,1.98,2.26,2.46,2.65,2.84,3.03,3.13,3.32,3.51,3.70,3.99,
4.18,4.38,4.57,4.76,4.95,5.14,5.43,5.62,5.82,6.01,6.20,6.39,6.58,6.78,6.97,7.16,7.35,7.54,7.74,7.93,
8.12,8.31,8.50,8.69,8.89,9.08,9.27,9.46,9.69,9.94,10.23,10.52,10.81,11.00,11.19,11.38,11.57,11.77,11.96,12.15,
12.34,12.53,12.73,12.92,13.11,13.22,13.40,13.59,13.78,13.97,14.17,14.36,14.55,14.74,14.93,15.12,15.32,15.51,15.70,15.89,
16.08,16.28,16.56,16.76,16.99,17.24,17.43,17.62,17.81,18.00,18.20,18.39,18.52,18.71,18.96,19.16,19.35,19.54,19.73,19.92,
20.12,20.31,20.50,20.75,20.98,21.17,21.36,21.55,21.75,21.94,22.13,22.32,22.51,22.71,22.99,23.28,23.63,23.86,24.15,24.34,
24.53,24.68,25.01,25.30,25.49,25.68,25.97,26.16,26.35,26.70,26.93,27.12,27.41,27.77,28.16,28.54,28.83,29.02,29.21,29.40,
29.69,29.88,30.08,30.27,30.56,30.84,31.04,31.23,31.42,31.61,31.80,32.00,32.19,32.38,32.67,32.96,33.24,33.53,33.82,34.01,
34.20,34.49,34.78,34.97,35.16,35.36,35.55,35.74,35.93,36.14,36.35,36.55,36.74,36.95,37.18,37.37,37.60,37.79,37.98,38.23,
38.43,38.71,38.93,39.14,39.35,39.50,39.71,39.90,40.10,40.29,40.48,40.67,40.92,41.17,41.40,41.59,41.79,41.98,42.17,42.36,
42.55,42.74,42.94,43.13,43.32,43.51,43.70,43.90,44.09,44.28,44.57,44.80,44.99,45.14,45.34,45.53,45.70,45.91,46.10,46.30,
46.49,46.74,46.93,47.16,47.35,47.54,47.83,48.12,48.31,48.50,48.69,48.98,49.27,49.56,49.79,50.04,50.33,50.52,50.71,50.90,
51.09,51.29,51.48,51.67,51.86,52.05,52.23,52.44,52.63,52.82,53.01,53.21,53.40,53.59,53.88,54.16,54.36,54.61,54.84,55.03,
55.28,55.51,55.70,55.89,56.18,56.37,56.56,56.76,57.00];
const displacement = [
-2.09e-4,-0.88e-4,0.47e-4,1.28e-4,1.48e-4,1.48e-4,1.08e-4,0.47e-4,0,-0.27e-4,-0.40e-4,-0.88e-4,-1.55e-4,-2.49e-4,-3.03e-4,-3.33e-4,-3.10e-4,-2.49e-4,-1.68e-4,-1.15e-4,
-0.34e-4,0.47e-4,1.55e-4,2.36e-4,2.96e-4,3.30e-4,3.41e-4,3.17e-4,2.63e-4,2.22e-4,1.95e-4,2.09e-4,1.82e-4,1.55e-4,1.42e-4,1.48e-4,1.42e-4,1.28e-4,0.88e-4,0.07e-4,
-0.88e-4,-1.42e-4,-1.95e-4,-2.90e-4,-3.84e-4,-4.78e-4,-5.32e-4,-5.73e-4,-6.02e-4,-5.59e-4,-5.46e-4,-4.65e-4,-3.44e-4,-2.49e-4,-1.42e-4,-0.20e-4,1.42e-4,2.90e-4,4.25e-4,5.59e-4,
6.13e-4,6.40e-4,7.35e-4,8.29e-4,8.49e-4,8.65e-4,7.88e-4,6.40e-4,5.32e-4,4.25e-4,3.17e-4,2.22e-4,1.42e-4,0.74e-4,0.07e-4,-0.74e-4,-1.68e-4,-2.63e-4,-3.44e-4,-4.25e-4,
-5.19e-4,-5.86e-4,-6.13e-4,-6.67e-4,-7.35e-4,-6.54e-4,-5.05e-4,-4.11e-4,-3.57e-4,-2.90e-4,-2.22e-4,-1.55e-4,-1.35e-4,-1.62e-4,-2.22e-4,-1.42e-4,-0.20e-4,1.28e-4,2.90e-4,4.38e-4,
5.73e-4,7.08e-4,7.61e-4,7.91e-4,7.55e-4,7.08e-4,6.00e-4,4.65e-4,3.44e-4,1.82e-4,0.34e-4,-0.74e-4,-1.42e-4,-1.95e-4,-2.76e-4,-2.09e-4,-1.64e-4,-2.22e-4,-2.76e-4,-3.44e-4,
-4.04e-4,-4.25e-4,-3.91e-4,-3.03e-4,-2.22e-4,-1.42e-4,-0.61e-4,0.20e-4,1.01e-4,1.39e-4,1.01e-4,0.47e-4,0.20e-4,0.47e-4,0.40e-4,0.88e-4,1.15e-4,2.09e-4,3.17e-4,3.98e-4,
4.52e-4,4.45e-4,3.98e-4,3.57e-4,3.30e-4,3.17e-4,2.76e-4,1.82e-4,0.47e-4,-0.88e-4,-2.36e-4,-3.71e-4,-4.51e-4,-5.32e-4,-6.00e-4,-6.33e-4,-5.59e-4,-4.65e-4,-3.57e-4,-2.76e-4,
-2.36e-4,-1.82e-4,-1.15e-4,-0.34e-4,0.61e-4,1.55e-4,2.36e-4,2.90e-4,3.44e-4,3.81e-4,3.30e-4,2.49e-4,1.82e-4,1.62e-4,2.63e-4,3.57e-4,3.95e-4,3.64e-4,3.50e-4,3.77e-4,
4.18e-4,4.51e-4,4.72e-4,4.38e-4,3.44e-4,2.09e-4,0.74e-4,-0.61e-4,-1.95e-4,-3.44e-4,-4.92e-4,-6.13e-4,-7.21e-4,-7.75e-4,-6.94e-4,-5.73e-4,-4.65e-4,-3.84e-4,-3.03e-4,-1.95e-4,
-1.28e-4,-1.01e-4,-0.34e-4,0.47e-4,1.01e-4,1.55e-4,2.02e-4,2.16e-4,1.89e-4,1.55e-4,1.42e-4,1.31e-4,1.82e-4,2.36e-4,2.70e-4,2.96e-4,3.17e-4,2.83e-4,2.36e-4,1.75e-4,
1.52e-4,1.55e-4,1.66e-4,1.42e-4,0.88e-4,0.20e-4,-0.20e-4,-0.47e-4,-0.88e-4,-1.42e-4,-1.82e-4,-2.09e-4,-2.29e-4,-2.49e-4,-2.65e-4,-2.49e-4,-2.43e-4,-1.95e-4,-1.42e-4,-0.88e-4,
-0.07e-4,0.74e-4,1.68e-4,2.49e-4,2.90e-4,3.10e-4,3.27e-4,2.96e-4,2.49e-4,1.82e-4,1.15e-4,0.20e-4,-0.61e-4,-1.15e-4,-1.28e-4,-1.15e-4,-0.94e-4,-0.61e-4,-0.88e-4,-1.15e-4,
-1.28e-4,-0.88e-4,-0.47e-4,-0.13e-4,0.20e-4,0.74e-4,1.28e-4,1.68e-4,1.58e-4];

// axis ticks
const timeDomain = [0, 57];
const timeTicks = [0, 10, 20, 30, 40, 50];
const accelTicks = [-0.05, -0.025, 0, 0.025, 0.05];
const velocityTicks = [-0.001, 0, 0.001];
const dispTicks = [-0.0005, 0, 0.0005];

const width = 3600, height = 2400;
const plotLeft = 329, plotRight = 3553;
const plotTop = 82, panelH = 581, panelStep = 774.5;
const font = "'DejaVu Sans', 'Liberation Sans', sans-serif";
const tickFont = 41.67, labelFont = 58.33;
const thin = 3.33, lineW = 6.25;

const panels = [
    { label: "Acceleration (cm/s/s)", color: "#000000", ticks: accelTicks, fmt: d3.format(".3f"),
      points: acceleration.map((v, i) => [i * dt, v]) },
    { label: "Velocity (cm/s)", color: "#0000ff", ticks: velocityTicks, fmt: d3.format(".3f"),
      points: velocity.map((v, i) => [i * dt, v]) },
    { label: "Displacement (cm)", color: "#ff0000", ticks: dispTicks, fmt: d3.format(".4f"),
      points: displacement.map((v, i) => [dispTime[i], v]) }
];

const svg = d3.select("#chart").append("svg")
    .attr("width", width)
    .attr("height", height)
    .attr("viewBox", [0, 0, width, height])
    .style("font-family", font);

svg.append("rect").attr("width", width).attr("height", height).attr("fill", "#fff");

const x = d3.scaleLinear().domain(timeDomain).range([plotLeft, plotRight]);

panels.forEach((p, i) => {
    const top = plotTop + i * panelStep;
    const bottom = top + panelH;
    // y limits: 10% beyond the largest absolute value, as in the original
    const lim = d3.max(p.points, d => Math.abs(d[1])) * 1.1;
    const y = d3.scaleLinear().domain([-lim, lim]).range([bottom, top]);

    const g = svg.append("g");

    // grid
    g.append("g").selectAll("line").data(timeTicks).join("line")
        .attr("x1", d => x(d)).attr("x2", d => x(d))
        .attr("y1", top).attr("y2", bottom)
        .attr("stroke", "#b0b0b0").attr("stroke-width", thin);
    g.append("g").selectAll("line").data(p.ticks).join("line")
        .attr("x1", plotLeft).attr("x2", plotRight)
        .attr("y1", d => y(d)).attr("y2", d => y(d))
        .attr("stroke", "#b0b0b0").attr("stroke-width", thin);

    // data line
    svg.append("clipPath").attr("id", "clip" + i)
        .append("rect")
        .attr("x", plotLeft).attr("y", top)
        .attr("width", plotRight - plotLeft).attr("height", panelH);

    const line = d3.line()
        .x(d => x(d[0]))
        .y(d => y(d[1]))
        .curve(i === 2 ? d3.curveCatmullRom.alpha(0.5) : d3.curveLinear);

    g.append("path")
        .datum(p.points)
        .attr("clip-path", `url(#clip${i})`)
        .attr("fill", "none")
        .attr("stroke", p.color)
        .attr("stroke-width", lineW)
        .attr("stroke-linejoin", "round")
        .attr("d", line);

    // frame
    g.append("rect")
        .attr("x", plotLeft).attr("y", top)
        .attr("width", plotRight - plotLeft).attr("height", panelH)
        .attr("fill", "none").attr("stroke", "#000").attr("stroke-width", thin);

    // x axis
    const xAxis = g.append("g")
        .attr("transform", `translate(0,${bottom})`)
        .call(d3.axisBottom(x).tickValues(timeTicks).tickFormat(d3.format("d"))
            .tickSize(14.6).tickPadding(14.6))
        .attr("font-size", tickFont)
        .attr("font-family", font);
    xAxis.select(".domain").remove();
    xAxis.selectAll(".tick line").attr("stroke", "#000").attr("stroke-width", thin);
    xAxis.selectAll(".tick text").attr("fill", "#000").attr("dy", "0.76em");

    // y axis
    const yAxis = g.append("g")
        .attr("transform", `translate(${plotLeft},0)`)
        .call(d3.axisLeft(y).tickValues(p.ticks).tickFormat(p.fmt)
            .tickSize(14.6).tickPadding(14.6))
        .attr("font-size", tickFont)
        .attr("font-family", font);
    yAxis.select(".domain").remove();
    yAxis.selectAll(".tick line").attr("stroke", "#000").attr("stroke-width", thin);
    yAxis.selectAll(".tick text").attr("fill", "#000").attr("dy", "0.34em");

    // y label sits just left of the widest tick label
    const tickBox = yAxis.node().getBBox();
    const lx = plotLeft + tickBox.x - 31;
    g.append("text")
        .attr("transform", `translate(${lx},${(top + bottom) / 2}) rotate(-90)`)
        .attr("text-anchor", "middle")
        .attr("font-size", labelFont)
        .attr("fill", "#000")
        .text(p.label);

    g.append("text")
        .attr("x", (plotLeft + plotRight) / 2)
        .attr("y", bottom + 131)
        .attr("text-anchor", "middle")
        .attr("font-size", labelFont)
        .attr("fill", "#000")
        .text("Time (s)");
});
</script>
</body>
</html>
